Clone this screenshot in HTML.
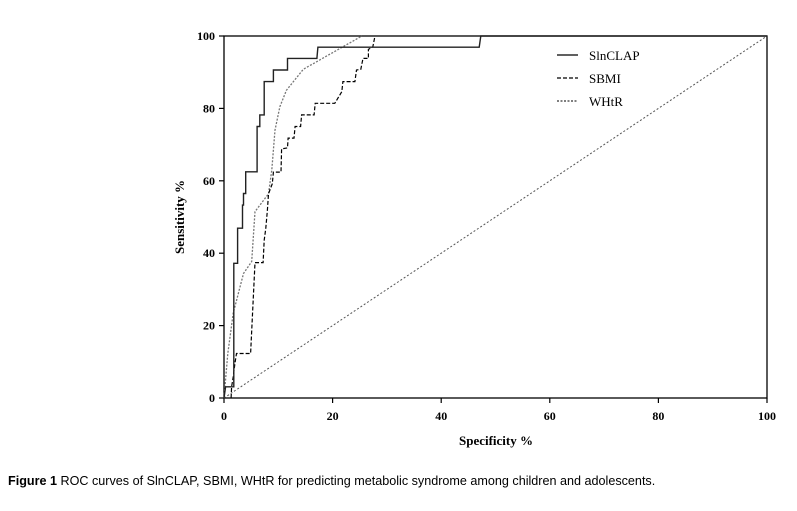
<!DOCTYPE html>
<html><head><meta charset="utf-8"><style>
body{margin:0;background:#fff;width:797px;height:506px;overflow:hidden}
svg text{font-family:"Liberation Serif",serif}
</style></head><body>
<svg id="chart" width="797" height="506" xmlns="http://www.w3.org/2000/svg">
<g id="axes"></g><g id="series"></g>
<g>
<line x1="557" y1="55" x2="578" y2="55" stroke="#000" stroke-width="1.3"/>
<text x="589" y="60" font-size="13">SlnCLAP</text>
<line x1="557" y1="78" x2="578" y2="78" stroke="#000" stroke-width="1.2" stroke-dasharray="4,2"/>
<text x="589" y="83" font-size="13">SBMI</text>
<line x1="557" y1="101" x2="578" y2="101" stroke="#333" stroke-width="1.2" stroke-dasharray="2,1.5"/>
<text x="589" y="106" font-size="13">WHtR</text>
</g>
<text x="496" y="445" font-size="13" font-weight="bold" text-anchor="middle">Specificity %</text>
<text x="0" y="0" font-size="13" font-weight="bold" text-anchor="middle" transform="translate(184,217) rotate(-90)">Sensitivity %</text>
<text x="8" y="485" font-size="12.6" style="font-family:'Liberation Sans',sans-serif"><tspan font-weight="bold">Figure 1</tspan> ROC curves of SlnCLAP, SBMI, WHtR for predicting metabolic syndrome among children and adolescents.</text>
</svg>
<script>
const xTicks=[0,20,40,60,80,100];
const yTicks=[0,20,40,60,80,100];
const slnX=[0,0.3,1.8,1.8,2.5,2.5,3.4,3.4,3.6,3.6,4.0,4.0,6.1,6.1,6.6,6.6,7.4,7.4,9.1,9.1,11.7,11.7,17.1,17.3,47,47.3,100];
const slnY=[0,3.1,3.1,37.2,37.2,46.9,46.9,53.3,53.3,56.5,56.5,62.5,62.5,75,75,78.2,78.2,87.4,87.4,90.6,90.6,93.8,93.8,96.9,96.9,100,100];
const sbmiX=[1.3,1.4,1.7,2.0,2.3,4.9,5.7,7.2,7.4,7.7,8.0,8.2,8.9,9.1,10.5,10.6,11.7,11.8,12.9,13.1,14.1,14.3,16.6,16.8,20.4,21.7,21.9,24.1,24.4,25.2,25.6,26.6,26.6,27.4,27.8];
const sbmiY=[0,3.1,5.8,9.5,12.3,12.3,37.4,37.4,43.6,46.9,51.9,56.4,59.2,62.4,62.4,68.8,69.1,71.8,71.8,75,75,78.2,78.2,81.4,81.4,84.6,87.4,87.4,90.6,90.8,93.8,93.8,96.3,97,100];
const whtrX=[0,0.7,1.7,3.6,5.1,5.7,8.2,8.8,9.4,10.3,11.5,14.6,25.4];
const whtrY=[0,12.3,23.4,34.4,37.7,51.5,56.4,63,74,80.5,85,90.8,100];
const X0=224,X1=767,Y0=398,Y1=36;
const xs=v=>X0+(X1-X0)*v/100, ys=v=>Y0-(Y0-Y1)*v/100;
const NS="http://www.w3.org/2000/svg";
const ax=document.getElementById('axes'), se=document.getElementById('series');
function mk(tag,attrs,parent){const e=document.createElementNS(NS,tag);for(const k in attrs)e.setAttribute(k,attrs[k]);parent.appendChild(e);return e;}
const frame=mk('rect',{x:X0,y:Y1,width:X1-X0,height:Y0-Y1,fill:'none',stroke:'#000','stroke-width':1.3},ax);


xTicks.forEach(t=>{
 const l=mk('line',{x1:xs(t),x2:xs(t),y1:Y0,y2:Y0+5,stroke:'#000','stroke-width':1.2},ax);
 
 
 const tx=mk('text',{x:xs(t),y:Y0+22,'font-size':12,'font-weight':'bold','text-anchor':'middle'},ax);
 tx.textContent=t;
 
 
});
yTicks.forEach(t=>{
 const l=mk('line',{x1:X0-5,x2:X0,y1:ys(t),y2:ys(t),stroke:'#000','stroke-width':1.2},ax);
 
 
 const tx=mk('text',{x:X0-9,y:ys(t)+4,'font-size':12,'font-weight':'bold','text-anchor':'end'},ax);
 tx.textContent=t;
 
 
});
const diag=mk('line',{x1:xs(0),y1:ys(0),x2:xs(100),y2:ys(100),stroke:'#555','stroke-width':1,'stroke-dasharray':'2,2'},se);


function pts(X,Y){return X.map((x,i)=>xs(x).toFixed(1)+','+ys(Y[i]).toFixed(1)).join(' ');}
const p1=mk('polyline',{points:pts(whtrX,whtrY),fill:'none',stroke:'#777','stroke-width':1.3,'stroke-dasharray':'2,1.5'},se);


const p2=mk('polyline',{points:pts(sbmiX,sbmiY),fill:'none',stroke:'#000','stroke-width':1.2,'stroke-dasharray':'4,2'},se);


const p3=mk('polyline',{points:pts(slnX,slnY),fill:'none',stroke:'#222','stroke-width':1.4},se);


</script>
</body></html>
